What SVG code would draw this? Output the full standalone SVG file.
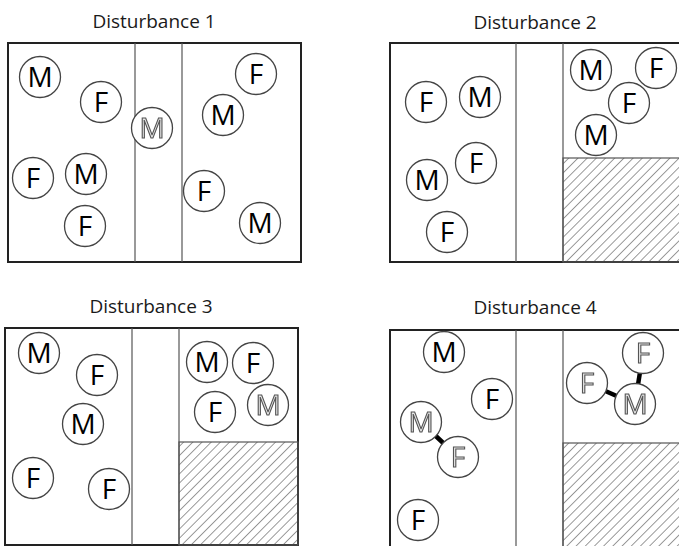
<svg xmlns="http://www.w3.org/2000/svg" width="679" height="546" viewBox="0 0 679 546">
<defs>
<pattern id="hatch" width="6.5" height="6.5" patternUnits="userSpaceOnUse" patternTransform="rotate(45)">
<line x1="0" y1="0" x2="0" y2="6.5" stroke="#333" stroke-width="1"/>
</pattern>
<filter id="gray" x="-10%" y="-10%" width="120%" height="120%">
<feColorMatrix type="saturate" values="0"/>
</filter>
<style>
.title{font-family:"Open Sans","Liberation Sans",sans-serif;font-size:19px;fill:#1a1a1a;text-anchor:middle}
.frame{fill:#fff;stroke:#222;stroke-width:2}
.div{stroke:#555;stroke-width:1.2;fill:none}
.hatch{fill:url(#hatch);stroke:#555;stroke-width:1.2}
.c{fill:#fff;stroke:#444;stroke-width:1.3}
.l{font-family:"Open Sans","Liberation Sans",sans-serif;font-size:28px;fill:#000;text-anchor:middle}
.o{font-family:"Open Sans","Liberation Sans",sans-serif;font-size:28px;fill:#e6e6e6;stroke:#555;stroke-width:1.1;text-anchor:middle;filter:url(#gray)}
.bond{stroke:#000;stroke-width:4.5}
</style>
</defs>

<!-- Panels -->
<g id="panel1">
<text class="title" x="154" y="28">Disturbance 1</text>
<rect class="frame" x="8" y="43" width="293" height="219"/>
<line class="div" x1="135" y1="43" x2="135" y2="262"/>
<line class="div" x1="182" y1="43" x2="182" y2="262"/>
</g>
<g id="panel2">
<text class="title" x="535" y="29">Disturbance 2</text>
<rect class="frame" x="390" y="43" width="310" height="219"/>
<rect class="hatch" x="563" y="158" width="140" height="104"/>
<line class="div" x1="516" y1="43" x2="516" y2="262"/>
<line class="div" x1="563" y1="43" x2="563" y2="262"/>
</g>
<g id="panel3">
<text class="title" x="151" y="313">Disturbance 3</text>
<rect class="frame" x="5" y="328" width="293" height="217"/>
<rect class="hatch" x="179" y="442" width="119" height="103"/>
<line class="div" x1="132" y1="328" x2="132" y2="545"/>
<line class="div" x1="179" y1="328" x2="179" y2="545"/>
</g>
<g id="panel4">
<text class="title" x="535" y="314">Disturbance 4</text>
<rect class="frame" x="390" y="330" width="310" height="230"/>
<rect class="hatch" x="563" y="443" width="140" height="120"/>
<line class="div" x1="516" y1="330" x2="516" y2="560"/>
<line class="div" x1="563" y1="330" x2="563" y2="560"/>
</g>

<!-- Connectors (bonds) -->
<g id="connectors">
<line class="bond" x1="421" y1="422" x2="458" y2="457"/>
<line class="bond" x1="587" y1="383" x2="635" y2="404"/>
<line class="bond" x1="643" y1="353" x2="635" y2="404"/>
</g>

<!-- Panel 1 individuals -->
<g id="p1-m1"><circle class="c" cx="40" cy="77" r="20.5"/><text class="l" x="40" y="87">M</text></g>
<g id="p1-f1"><circle class="c" cx="101" cy="102" r="20.5"/><text class="l" x="101" y="112">F</text></g>
<g id="p1-m2"><circle class="c" cx="152" cy="128" r="20.5"/><text class="o" x="152" y="138">M</text></g>
<g id="p1-f2"><circle class="c" cx="33" cy="178" r="20.5"/><text class="l" x="33" y="188">F</text></g>
<g id="p1-m3"><circle class="c" cx="86" cy="174" r="20.5"/><text class="l" x="86" y="184">M</text></g>
<g id="p1-f3"><circle class="c" cx="85" cy="226" r="20.5"/><text class="l" x="85" y="236">F</text></g>
<g id="p1-f4"><circle class="c" cx="256" cy="74" r="20.5"/><text class="l" x="256" y="84">F</text></g>
<g id="p1-m4"><circle class="c" cx="223" cy="115" r="20.5"/><text class="l" x="223" y="125">M</text></g>
<g id="p1-f5"><circle class="c" cx="204" cy="191" r="20.5"/><text class="l" x="204" y="201">F</text></g>
<g id="p1-m5"><circle class="c" cx="260" cy="223" r="20.5"/><text class="l" x="260" y="233">M</text></g>

<!-- Panel 2 individuals -->
<g id="p2-f1"><circle class="c" cx="426" cy="102" r="20.5"/><text class="l" x="426" y="112">F</text></g>
<g id="p2-m1"><circle class="c" cx="480" cy="97" r="20.5"/><text class="l" x="480" y="107">M</text></g>
<g id="p2-m2"><circle class="c" cx="427" cy="180" r="20.5"/><text class="l" x="427" y="190">M</text></g>
<g id="p2-f2"><circle class="c" cx="476" cy="163" r="20.5"/><text class="l" x="476" y="173">F</text></g>
<g id="p2-f3"><circle class="c" cx="447" cy="232" r="20.5"/><text class="l" x="447" y="242">F</text></g>
<g id="p2-m3"><circle class="c" cx="591" cy="70" r="20.5"/><text class="l" x="591" y="80">M</text></g>
<g id="p2-f4"><circle class="c" cx="656" cy="68" r="20.5"/><text class="l" x="656" y="78">F</text></g>
<g id="p2-f5"><circle class="c" cx="629" cy="103" r="20.5"/><text class="l" x="629" y="113">F</text></g>
<g id="p2-m4"><circle class="c" cx="596" cy="135" r="20.5"/><text class="l" x="596" y="145">M</text></g>

<!-- Panel 3 individuals -->
<g id="p3-m1"><circle class="c" cx="39" cy="353" r="20.5"/><text class="l" x="39" y="363">M</text></g>
<g id="p3-f1"><circle class="c" cx="97" cy="375" r="20.5"/><text class="l" x="97" y="385">F</text></g>
<g id="p3-m2"><circle class="c" cx="83" cy="424" r="20.5"/><text class="l" x="83" y="434">M</text></g>
<g id="p3-f2"><circle class="c" cx="33" cy="478" r="20.5"/><text class="l" x="33" y="488">F</text></g>
<g id="p3-f3"><circle class="c" cx="109" cy="489" r="20.5"/><text class="l" x="109" y="499">F</text></g>
<g id="p3-m3"><circle class="c" cx="207" cy="362" r="20.5"/><text class="l" x="207" y="372">M</text></g>
<g id="p3-f4"><circle class="c" cx="253" cy="363" r="20.5"/><text class="l" x="253" y="373">F</text></g>
<g id="p3-f5"><circle class="c" cx="215" cy="412" r="20.5"/><text class="l" x="215" y="422">F</text></g>
<g id="p3-m4"><circle class="c" cx="268" cy="405" r="20.5"/><text class="o" x="268" y="415">M</text></g>

<!-- Panel 4 individuals -->
<g id="p4-m1"><circle class="c" cx="444" cy="352" r="20.5"/><text class="l" x="444" y="362">M</text></g>
<g id="p4-f1"><circle class="c" cx="492" cy="399" r="20.5"/><text class="l" x="492" y="409">F</text></g>
<g id="p4-m2"><circle class="c" cx="421" cy="422" r="20.5"/><text class="o" x="421" y="432">M</text></g>
<g id="p4-f2"><circle class="c" cx="458" cy="457" r="20.5"/><text class="o" x="458" y="467">F</text></g>
<g id="p4-f3"><circle class="c" cx="418" cy="520" r="20.5"/><text class="l" x="418" y="530">F</text></g>
<g id="p4-f4"><circle class="c" cx="643" cy="353" r="20.5"/><text class="o" x="643" y="363">F</text></g>
<g id="p4-f5"><circle class="c" cx="587" cy="383" r="20.5"/><text class="o" x="587" y="393">F</text></g>
<g id="p4-m3"><circle class="c" cx="635" cy="404" r="20.5"/><text class="o" x="635" y="414">M</text></g>
</svg>
